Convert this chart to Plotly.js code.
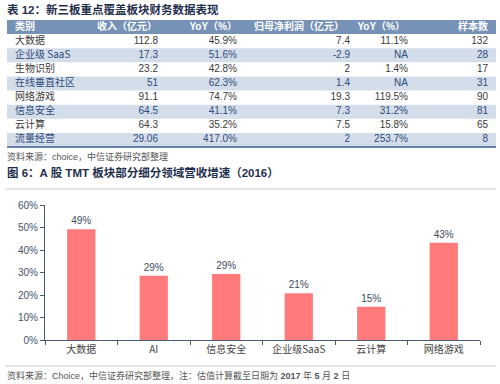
<!DOCTYPE html>
<html><head><meta charset="utf-8">
<script src="https://cdn.plot.ly/plotly-3.0.1.min.js"></script>
<style>body{margin:0;background:#fff}#c{width:500px;height:384px}</style></head>
<body><div id="c"></div>
<script>
// ---- Table 12 data ----
const tableCats = ['大数据','企业级 SaaS','生物识别','在线垂直社区','网络游戏','信息安全','云计算','流量经营'];
const revenue = [112.8, 17.3, 23.2, 51, 91.1, 64.5, 64.3, 29.06];
const revenueYoY = [45.9, 51.6, 42.8, 62.3, 74.7, 41.1, 35.2, 417.0];
const netProfit = [7.4, -2.9, 2, 1.4, 19.3, 7.3, 7.5, 2];
const profitYoY = [11.1, null, 1.4, null, 119.5, 31.2, 15.8, 253.7];
const sampleCount = [132, 28, 17, 31, 90, 81, 65, 8];
const tableHeaders = ['类别','收入（亿元）','YoY（%）','归母净利润（亿元）','YoY（%）','样本数'];

// ---- Figure 6 data ----
const barCats = ['大数据','AI','信息安全','企业级SaaS','云计算','网络游戏'];
const barGrowth = [49.2, 28.6, 29.3, 20.8, 14.8, 43.2];
const yTicks = [0,10,20,30,40,50,60];

const W = 500, H = 384;
const px = x => x / W, py = y => 1 - y / H;
const FONT = 'Liberation Sans, Arial, Noto Sans CJK SC, sans-serif';
const CJK = 'Noto Sans CJK SC, sans-serif';

// table layout (pixel units on the hidden table axis)
const colAnchor = [15, 158, 237, 350, 408, 488];
const headAnchor = [15, 157, 237, 344, 405, 488];
const pct = v => v === null ? 'NA' : v.toFixed(1) + '%';
const cols = [tableCats, revenue.map(String), revenueYoY.map(pct), netProfit.map(String), profitYoY.map(pct), sampleCount.map(String)];
const rowIdx = tableCats.map((_, i) => i + 1);
const rowFont = tableCats.map((_, i) => i % 2 === 1 ? '#2d4b7a' : '#3a3a3a');

const traces = [];
cols.forEach((col, c) => {
  traces.push({
    type: 'scatter', mode: 'text', xaxis: 'x2', yaxis: 'y2',
    x: col.map(() => colAnchor[c]), y: rowIdx, text: col,
    textposition: c === 0 ? 'middle right' : 'middle left',
    textfont: {size: 10, color: rowFont, family: c === 0 ? CJK : FONT},
    cliponaxis: false, hoverinfo: 'none'
  });
});
traces.push({
  type: 'scatter', mode: 'text', xaxis: 'x2', yaxis: 'y2',
  x: headAnchor, y: tableHeaders.map(() => 0),
  text: tableHeaders.map(h => '<b>' + h + '</b>'),
  textposition: headAnchor.map((_, c) => c === 0 ? 'middle right' : 'middle left'),
  textfont: {size: 10, color: '#ffffff', family: FONT},
  cliponaxis: false, hoverinfo: 'none'
});

traces.push({
  type: 'bar',
  x: barCats,
  y: barGrowth,
  text: barGrowth.map(v => Math.round(v) + '%'),
  textposition: 'outside',
  textfont: {size: 10, color: '#3d4a5c', family: FONT},
  marker: {color: '#ff7b7b'},
  width: 0.39,
  cliponaxis: false,
  hoverinfo: 'none',
  xaxis: 'x', yaxis: 'y'
});

const rowShapes = [{type:'rect', xref:'paper', yref:'y2', x0: px(7), x1: px(496), y0: -0.5, y1: 0.5,
  fillcolor:'#7792b7', line:{width:0}, layer:'below'}];
tableCats.forEach((_, i) => {
  if (i % 2 === 1) rowShapes.push({type:'rect', xref:'paper', yref:'y2', x0: px(7), x1: px(496),
    y0: i + 0.5, y1: i + 1.5, fillcolor:'#d4deea', line:{width:0}, layer:'below'});
});

const axisColor = '#4a5a70';
const layout = {
  width: W, height: H,
  margin: {l: 0, r: 0, t: 0, b: 0},
  paper_bgcolor: '#ffffff', plot_bgcolor: 'rgba(0,0,0,0)',
  showlegend: false,
  font: {family: FONT},
  xaxis: {
    domain: [px(45), px(480)],
    anchor: 'y',
    showline: true, linecolor: axisColor, linewidth: 1,
    ticks: 'outside', tickson: 'boundaries', ticklen: 4, tickcolor: axisColor,
    tickfont: {size: 10, color: '#444', family: CJK},
    showgrid: false, zeroline: false, fixedrange: true
  },
  yaxis: {
    domain: [py(340), py(205)],
    anchor: 'x',
    range: [0, 60],
    tickvals: yTicks, ticktext: yTicks.map(v => v + '%'),
    showline: true, linecolor: axisColor, linewidth: 1,
    ticks: 'outside', ticklen: 4, tickcolor: axisColor,
    tickfont: {size: 10, color: '#44546a', family: FONT},
    showgrid: false, zeroline: false, fixedrange: true
  },
  xaxis2: {domain: [px(7), px(496)], range: [7, 496], anchor: 'y2', visible: false, fixedrange: true},
  yaxis2: {domain: [py(147), py(20)], range: [8.5, -0.5], anchor: 'x2', visible: false, fixedrange: true},
  annotations: [
    {xref:'paper', yref:'paper', x: px(5), y: py(10), xanchor:'left', yanchor:'middle', showarrow:false,
     text:'<b>表 12：新三板重点覆盖板块财务数据表现</b>', font:{size:11.5, color:'#1f2f4d', family: FONT}},
    {xref:'paper', yref:'paper', x: px(5), y: py(156), xanchor:'left', yanchor:'middle', showarrow:false,
     text:'资料来源：choice，中信证券研究部整理', font:{size:9, color:'#555', family: FONT}},
    {xref:'paper', yref:'paper', x: px(5), y: py(173), xanchor:'left', yanchor:'middle', showarrow:false,
     text:'<b>图 6：A 股 TMT 板块部分细分领域营收增速（2016）</b>', font:{size:11.5, color:'#1f2f4d', family: FONT}},
    {xref:'paper', yref:'paper', x: px(5), y: py(375), xanchor:'left', yanchor:'middle', showarrow:false,
     text:'资料来源：Choice，中信证券研究部整理，注：估值计算截至日期为 <b>2017</b> 年 <b>5</b> 月 <b>2</b> 日', font:{size:9, color:'#555', family: FONT}}
  ],
  shapes: rowShapes.concat([
    {type:'line', xref:'paper', yref:'paper', x0: px(7), x1: px(496), y0: py(147), y1: py(147), line:{color:'#3e5e8b', width:1.5}},
    {type:'line', xref:'paper', yref:'paper', x0: px(5), x1: px(496), y0: py(189), y1: py(189), line:{color:'#c8ccd2', width:1}},
    {type:'line', xref:'paper', yref:'paper', x0: px(5), x1: px(496), y0: py(366), y1: py(366), line:{color:'#c8ccd2', width:1}}
  ])
};

Plotly.newPlot('c', traces, layout, {displayModeBar: false, staticPlot: true});
</script></body></html>
